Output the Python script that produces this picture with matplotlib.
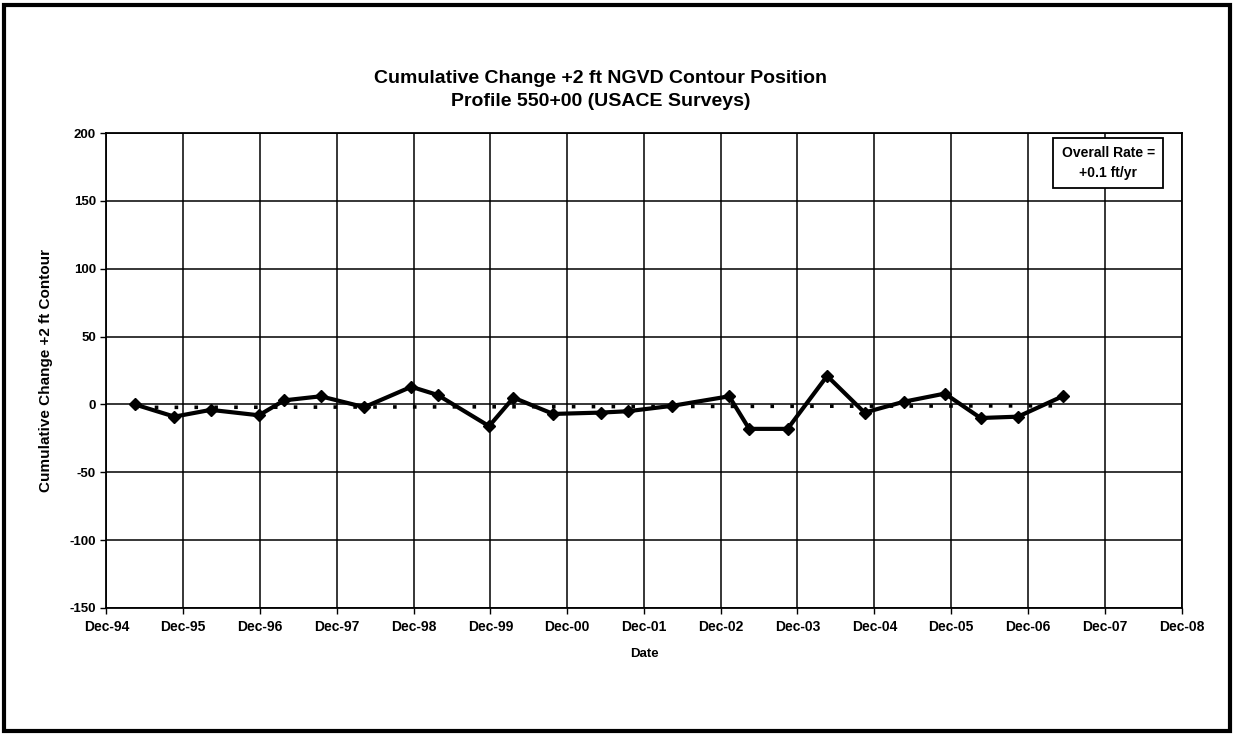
import matplotlib
matplotlib.use("Agg")
import matplotlib.pyplot as plt
import matplotlib.dates as mdates
from matplotlib.patches import Rectangle
import pandas as pd

# survey dates and cumulative change of the +2 ft NGVD contour (ft)
survey_dates = ["1995-04-15", "1995-10-20", "1996-04-10", "1996-11-25", "1997-03-25",
                "1997-09-15", "1998-04-10", "1998-11-20", "1999-03-25", "1999-11-25",
                "2000-03-20", "2000-09-25", "2001-05-10", "2001-09-15", "2002-04-15",
                "2003-01-10", "2003-04-15", "2003-10-15", "2004-04-20", "2004-10-15",
                "2005-04-20", "2005-11-01", "2006-04-20", "2006-10-15", "2007-05-15"]
change = [0, -9, -4, -8, 3,
          6, -2, 13, 7, -16,
          5, -7, -6, -5, -1,
          6, -18, -18, 21, -6,
          2, 8, -10, -9, 6]

# linear trend (overall rate +0.1 ft/yr), end points
trend_dates = ["1995-04-15", "2007-05-15"]
trend_vals = [-2.2, -1.0]

rate_text = "Overall Rate =\n+0.1 ft/yr"

x = pd.to_datetime(survey_dates)
xt = pd.to_datetime(trend_dates)

plt.rcParams["font.family"] = ["Liberation Sans", "DejaVu Sans"]
plt.rcParams["font.weight"] = "bold"
plt.rcParams["axes.unicode_minus"] = False

fig = plt.figure(figsize=(12.34, 7.35), dpi=100)
ax = fig.add_axes([0.0863, 0.1728, 0.8712, 0.6462])

ax.plot(xt, trend_vals, color="black", lw=2.6, linestyle=(0, (1, 4.5)),
        dash_capstyle="butt", zorder=3)
ax.plot(x, change, color="black", lw=3, marker="D", markersize=6.5,
        zorder=4)

ax.set_ylim(-150, 200)
ax.set_yticks(range(-150, 201, 50))
ax.set_xlim(pd.Timestamp("1994-12-01"), pd.Timestamp("2008-12-01"))
ax.xaxis.set_major_locator(mdates.YearLocator(base=1, month=12, day=1))
ax.xaxis.set_major_formatter(mdates.DateFormatter("%b-%y"))

ax.grid(True, color="black", lw=1.1)
for s in ax.spines.values():
    s.set_color("black")
    s.set_linewidth(1.3)
ax.tick_params(axis="both", direction="out", length=4, width=1,
               color="black")
ax.tick_params(axis="x", labelsize=10, pad=5)
ax.tick_params(axis="y", labelsize=9.5)
for lab in ax.get_xticklabels() + ax.get_yticklabels():
    lab.set_fontweight("bold")

ax.set_xlabel("Date", fontsize=9.5, fontweight="bold", labelpad=10)
ax.set_ylabel("Cumulative Change +2 ft Contour", fontsize=11,
              fontweight="bold", labelpad=12)

fig.text(0.487, 0.893, "Cumulative Change +2 ft NGVD Contour Position",
         ha="center", va="center", fontsize=14, fontweight="bold")
fig.text(0.487, 0.862, "Profile 550+00 (USACE Surveys)",
         ha="center", va="center", fontsize=14, fontweight="bold")

ax.text(0.932, 0.972, rate_text, transform=ax.transAxes, ha="center",
        va="top", fontsize=10, fontweight="bold", linespacing=1.5,
        bbox=dict(boxstyle="square,pad=0.6", fc="white", ec="black", lw=1.3),
        zorder=6)

# outer chart border
fig.patches.append(Rectangle((0.003, 0.005), 0.994, 0.988,
                             transform=fig.transFigure, fill=False,
                             ec="black", lw=3))

fig.savefig("out.png", dpi=100)
